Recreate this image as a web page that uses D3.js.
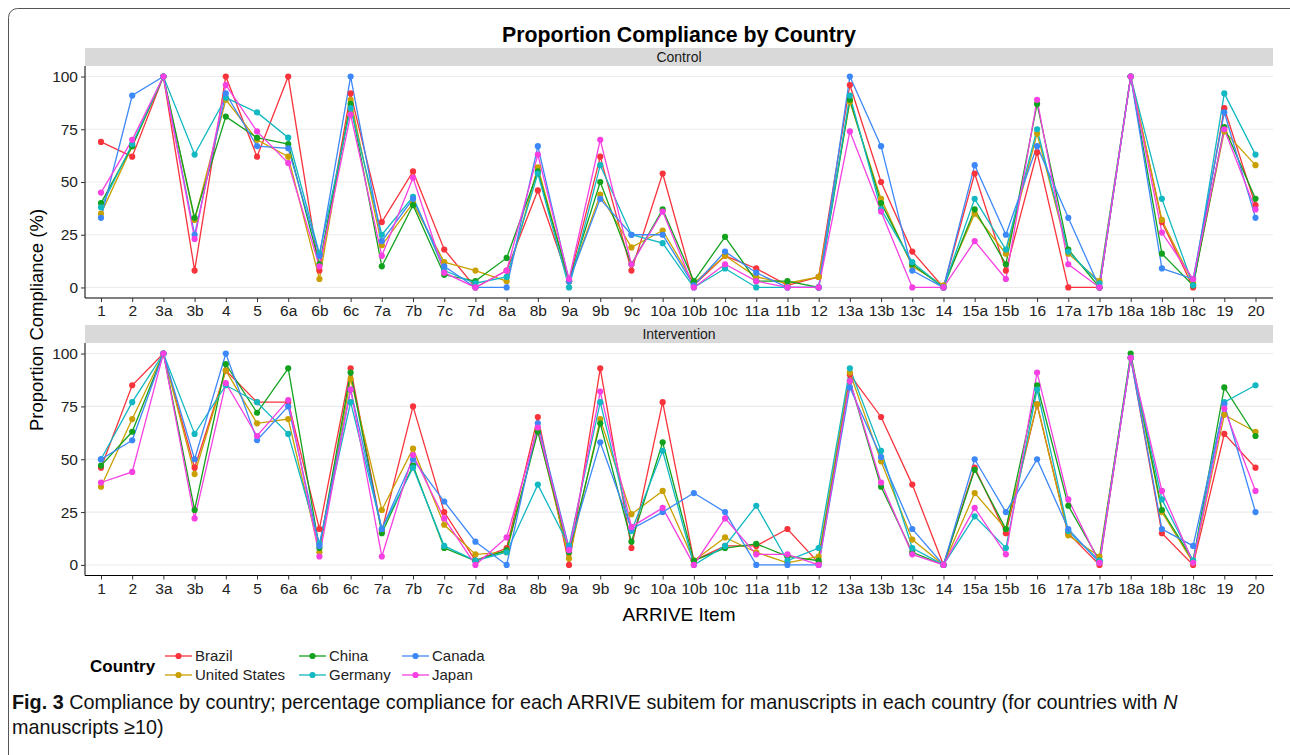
<!DOCTYPE html>
<html>
<head>
<meta charset="utf-8">
<script src="https://cdn.jsdelivr.net/npm/d3@7"></script>
<style>
  html, body { margin: 0; padding: 0; background: #fff; }
  svg { display: block; font-family: "Liberation Sans", Arial, sans-serif; }
</style>
</head>
<body>
<svg id="chart" width="1290" height="755"></svg>
<script>
// ARRIVE sub-items on the x axis
const items = ["1","2","3a","3b","4","5","6a","6b","6c","7a","7b","7c","7d","8a","8b","9a","9b","9c",
  "10a","10b","10c","11a","11b","12","13a","13b","13c","14","15a","15b","16","17a","17b","18a","18b","18c","19","20"];

const countries = ["Brazil", "United States", "China", "Germany", "Canada", "Japan"];
const countryColors = ["#F8333C", "#C9A000", "#13A21E", "#12B8C2", "#3D88F8", "#F640E2"];
const panels = ["Control", "Intervention"];
const yTicks = [0, 25, 50, 75, 100];

// Proportion compliance (%) — Control
const controlBrazil  = [69,62,100,8,100,62,100,8,92,31,55,18,0,8,46,3,62,8,54,1,15,9,1,5,96,50,17,0,54,8,64,0,0,100,31,0,85,39];
const controlUS      = [35,67,100,32,89,70,62,4,89,20,40,12,8,3,57,3,44,19,27,2,15,5,2,5,88,42,10,1,35,16,73,16,3,100,32,2,74,58];
const controlChina   = [40,67,100,33,81,71,68,11,87,10,39,6,3,14,55,3,50,11,37,3,24,3,3,0,89,40,11,0,37,11,87,18,0,100,16,1,76,42];
const controlGermany = [38,68,100,63,90,83,71,16,85,25,43,8,2,5,54,0,58,25,21,0,9,0,0,0,91,37,12,0,42,18,75,17,2,100,42,1,92,63];
const controlCanada  = [33,91,100,25,92,67,66,15,100,22,42,10,0,0,67,3,42,25,25,1,17,7,0,0,100,67,8,0,58,25,67,33,0,100,9,4,83,33];
const controlJapan   = [45,70,100,23,96,74,59,10,82,15,52,7,0,8,63,4,70,11,36,0,11,3,0,0,74,36,0,0,22,4,89,11,0,100,26,4,75,37];

// Proportion compliance (%) — Intervention
const interBrazil  = [46,85,100,46,92,77,77,17,93,16,75,25,2,8,70,0,93,8,77,2,9,9,17,1,90,70,38,0,46,15,76,15,0,98,15,0,62,46];
const interUS      = [37,69,100,43,92,67,69,6,88,26,55,19,5,6,64,3,69,24,35,2,13,6,1,4,91,49,12,0,34,17,76,14,4,98,25,1,71,63];
const interChina   = [47,63,100,26,95,72,93,8,91,15,47,8,2,7,63,6,67,11,58,2,8,10,4,2,87,37,6,0,45,17,85,28,2,100,26,2,84,61];
const interGermany = [50,77,100,62,85,77,62,10,77,17,46,9,2,6,38,9,77,16,54,0,9,28,2,8,93,54,8,0,23,8,83,16,2,98,31,2,77,85];
const interCanada  = [50,59,100,50,100,59,75,9,83,17,50,30,11,0,67,8,58,17,25,34,25,0,0,0,84,51,17,0,50,25,50,17,1,98,17,9,76,25];
const interJapan   = [39,44,100,22,86,61,78,4,83,4,52,22,0,13,65,7,82,18,27,0,22,5,5,0,87,39,5,0,27,5,91,31,1,98,35,1,74,35];

const panelSeries = {
  "Control":      [controlBrazil, controlUS, controlChina, controlGermany, controlCanada, controlJapan],
  "Intervention": [interBrazil, interUS, interChina, interGermany, interCanada, interJapan]
};

const svg = d3.select("#chart");
const W = 1290, H = 755;

// card outline
svg.append("rect")
  .attr("x", 8.5).attr("y", 8.5).attr("width", W + 20).attr("height", H + 20)
  .attr("rx", 9).attr("fill", "none").attr("stroke", "#555").attr("stroke-width", 1);

// title
svg.append("text")
  .attr("x", 679).attr("y", 42).attr("text-anchor", "middle")
  .attr("font-size", 21.3).attr("font-weight", "bold").attr("fill", "#000")
  .text("Proportion Compliance by Country");

const plotLeft = 85, plotRight = 1273;
const x = d3.scalePoint().domain(items).range([101, 1255.5]);
const color = d3.scaleOrdinal().domain(countries).range(countryColors);

const layout = [
  { name: "Control",      stripTop: 48,  top: 66,  bottom: 298 },
  { name: "Intervention", stripTop: 325, top: 343, bottom: 575.5 }
];

layout.forEach(p => {
  const g = svg.append("g");
  const pad = (p.bottom - p.top) * 0.05 / 1.1;
  const y = d3.scaleLinear().domain([0, 100]).range([p.bottom - pad, p.top + pad]);

  // strip
  g.append("rect")
    .attr("x", plotLeft).attr("y", p.stripTop)
    .attr("width", plotRight - plotLeft).attr("height", p.top - p.stripTop)
    .attr("fill", "#d9d9d9");
  g.append("text")
    .attr("x", (plotLeft + plotRight) / 2).attr("y", p.stripTop + 13.5)
    .attr("text-anchor", "middle").attr("font-size", 14).attr("fill", "#1a1a1a")
    .text(p.name);

  // horizontal grid
  g.append("g").selectAll("line").data(yTicks).join("line")
    .attr("x1", plotLeft).attr("x2", plotRight)
    .attr("y1", d => y(d)).attr("y2", d => y(d))
    .attr("stroke", "#ebebeb").attr("stroke-width", 1.1);

  // y axis
  const yAxis = g.append("g")
    .attr("transform", `translate(${plotLeft},0)`)
    .call(d3.axisLeft(y).tickValues(yTicks).tickSize(4).tickPadding(3));
  yAxis.select(".domain").attr("d", `M0,${p.top}V${p.bottom}`).attr("stroke", "#000");
  yAxis.selectAll(".tick line").attr("stroke", "#333");
  yAxis.selectAll(".tick text").attr("font-size", 15.5).attr("fill", "#222")
    .attr("font-family", "Liberation Sans, Arial, sans-serif");

  // x axis
  const xAxis = g.append("g")
    .attr("transform", `translate(0,${p.bottom})`)
    .call(d3.axisBottom(x).tickSize(4).tickPadding(3));
  xAxis.select(".domain").attr("d", `M${plotLeft},0H${plotRight}`).attr("stroke", "#000");
  xAxis.selectAll(".tick line").attr("stroke", "#333");
  xAxis.selectAll(".tick text").attr("font-size", 15.5).attr("fill", "#222")
    .attr("font-family", "Liberation Sans, Arial, sans-serif");

  const series = panelSeries[p.name];
  const line = d3.line().x((d, i) => x(items[i])).y(d => y(d));

  // lines first, then points
  g.append("g").selectAll("path").data(series).join("path")
    .attr("d", d => line(d))
    .attr("fill", "none")
    .attr("stroke", (d, i) => countryColors[i])
    .attr("stroke-width", 1.3);

  series.forEach((vals, si) => {
    g.append("g").selectAll("circle").data(vals).join("circle")
      .attr("cx", (d, i) => x(items[i]))
      .attr("cy", d => y(d))
      .attr("r", 3.1)
      .attr("fill", countryColors[si]);
  });
});

// axis titles
svg.append("text")
  .attr("transform", "translate(43,320) rotate(-90)")
  .attr("text-anchor", "middle").attr("font-size", 18.5).attr("fill", "#000")
  .text("Proportion Compliance (%)");
svg.append("text")
  .attr("x", 679).attr("y", 621).attr("text-anchor", "middle")
  .attr("font-size", 19).attr("fill", "#000")
  .text("ARRIVE Item");

// legend
const legend = svg.append("g");
legend.append("text")
  .attr("x", 90).attr("y", 672).attr("font-size", 17).attr("font-weight", "bold")
  .attr("fill", "#000").text("Country");
const legendCols = [165, 299, 402];
countries.forEach((c, i) => {
  const col = Math.floor(i / 2), row = i % 2;
  const lx = legendCols[col], ly = 656 + row * 19;
  legend.append("line")
    .attr("x1", lx).attr("x2", lx + 27).attr("y1", ly).attr("y2", ly)
    .attr("stroke", color(c)).attr("stroke-width", 1.3);
  legend.append("circle")
    .attr("cx", lx + 13.5).attr("cy", ly).attr("r", 3.1).attr("fill", color(c));
  legend.append("text")
    .attr("x", lx + 30).attr("y", ly + 5).attr("font-size", 15).attr("fill", "#222")
    .text(c);
});

// caption
const cap = svg.append("text").attr("x", 12).attr("y", 709).attr("font-size", 19.8).attr("fill", "#111");
cap.append("tspan").attr("font-weight", "bold").text("Fig. 3");
cap.append("tspan").text(" Compliance by country; percentage compliance for each ARRIVE subitem for manuscripts in each country (for countries with ");
cap.append("tspan").attr("font-style", "italic").text("N");
svg.append("text").attr("x", 12).attr("y", 734).attr("font-size", 19.8).attr("fill", "#111")
  .text("manuscripts ≥10)");
</script>
</body>
</html>
